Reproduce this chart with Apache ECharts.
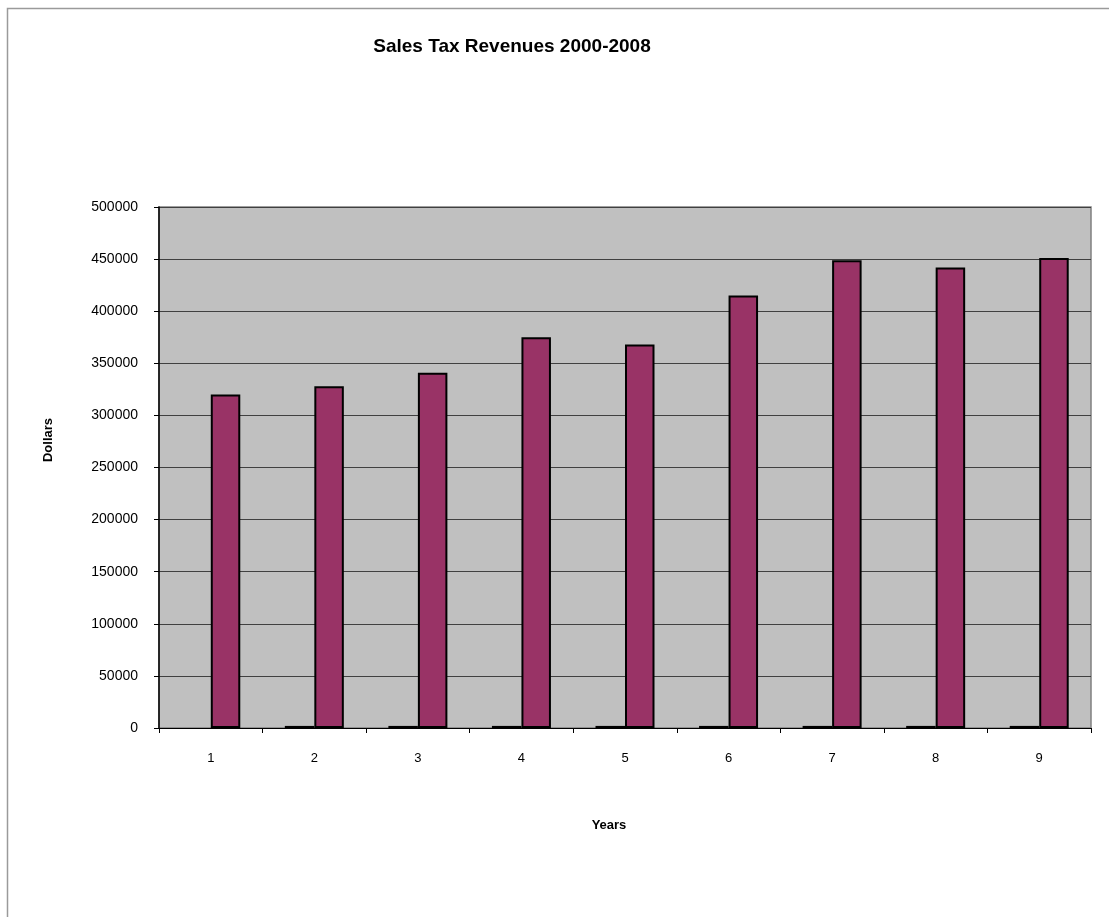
<!DOCTYPE html>
<html><head><meta charset="utf-8">
<script src="https://cdn.jsdelivr.net/npm/echarts@6/dist/echarts.min.js"></script>
<style>html,body{margin:0;padding:0;background:#fff}#c{width:1109px;height:917px}</style>
</head><body><div id="c"></div>
<script>
const categories = ['1','2','3','4','5','6','7','8','9'];
const yearSeries = [null, 2001, 2002, 2003, 2004, 2005, 2006, 2007, 2008];
const revenues = [320000, 328000, 341000, 375000, 368000, 415000, 449000, 442000, 451000];
const yTicks = [0, 50000, 100000, 150000, 200000, 250000, 300000, 350000, 400000, 450000, 500000];

const chart = echarts.init(document.getElementById('c'), null, {renderer: 'canvas'});
const font = 'Arial, "Liberation Sans", sans-serif';
chart.setOption({
  animation: false,
  backgroundColor: '#fff',
  graphic: [{
    type: 'rect', silent: true, z: -10,
    shape: {x: 7.5, y: 8.5, width: 1200, height: 1000},
    style: {fill: 'none', stroke: '#9a9a9a', lineWidth: 1.5}
  }, {
    type: 'text', silent: true, x: 512, y: 47,
    style: {text: 'Sales Tax Revenues 2000-2008', font: 'bold 19px Arial, "Liberation Sans", sans-serif',
      fill: '#000', textAlign: 'center', textVerticalAlign: 'middle'}
  }, {
    type: 'text', silent: true, x: 609, y: 825,
    style: {text: 'Years', font: 'bold 13px Arial, "Liberation Sans", sans-serif', fill: '#000',
      textAlign: 'center', textVerticalAlign: 'middle'}
  }, {
    type: 'text', silent: true, x: 48, y: 440, rotation: Math.PI / 2,
    style: {text: 'Dollars', font: 'bold 13px Arial, "Liberation Sans", sans-serif', fill: '#000',
      textAlign: 'center', textVerticalAlign: 'middle'}
  }],
  grid: {left: 159, top: 207, right: 18, bottom: 189, show: true,
    backgroundColor: '#c0c0c0', borderColor: '#808080', borderWidth: 1.5},
  xAxis: {
    type: 'category', data: categories,
    axisLine: {show: true, lineStyle: {color: '#000', width: 1}},
    axisTick: {show: true, alignWithLabel: false, length: 5, lineStyle: {color: '#000'}},
    axisLabel: {fontFamily: font, fontSize: 13, color: '#000', margin: 24}
  },
  yAxis: {
    type: 'value', min: yTicks[0], max: yTicks[yTicks.length - 1], interval: yTicks[1] - yTicks[0],
    axisLine: {show: true, lineStyle: {color: '#000', width: 1.5}},
    axisTick: {show: true, length: 5, lineStyle: {color: '#000'}},
    axisLabel: {fontFamily: font, fontSize: 14, color: '#000', margin: 21,
      formatter: function (v) { return String(v); }},
    splitLine: {show: true, lineStyle: {color: '#404040', width: 1}}
  },
  series: [
    {type: 'bar', name: 'Year', data: yearSeries, barWidth: 29.5, barGap: '0%',
      itemStyle: {color: '#000080', borderColor: '#000', borderWidth: 2}},
    {type: 'bar', name: 'Revenue', data: revenues, barWidth: 29.5,
      itemStyle: {color: '#993366', borderColor: '#000', borderWidth: 2}}
  ]
});
</script></body></html>
